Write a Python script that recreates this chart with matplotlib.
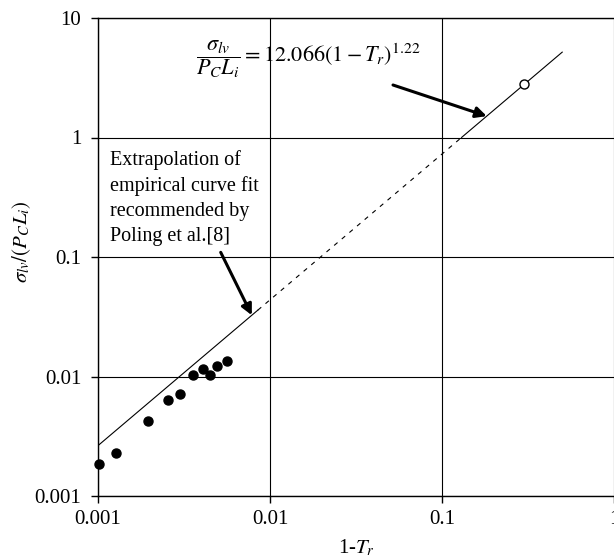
import numpy as np
import matplotlib
matplotlib.use("Agg")
import matplotlib.pyplot as plt
from matplotlib.ticker import FixedLocator, FixedFormatter, NullLocator

plt.rcParams["font.family"] = ["Liberation Serif", "DejaVu Serif"]
plt.rcParams["mathtext.fontset"] = "stix"

# Measured surface tension data (reduced form)
one_minus_tr = [0.00102, 0.00127, 0.00194, 0.00254, 0.00300,
                0.00358, 0.00406, 0.00448, 0.00490, 0.00560]
sigma_reduced = [0.00184, 0.00228, 0.00424, 0.00636, 0.00714,
                 0.01023, 0.01162, 0.01023, 0.01231, 0.01356]

# Reference point on the correlation
ref_x = [0.3]
ref_y = [2.78]

# Empirical correlation: sigma/(Pc Li) = A (1 - Tr)^n
fit_coeff = 12.066
fit_exp = 1.22
fit_solid_low = [0.001, 0.0085]
fit_dashed = [0.0085, 0.13]
fit_solid_high = [0.13, 0.5]

x_ticks = [0.001, 0.01, 0.1, 1]
x_tick_labels = ["0.001", "0.01", "0.1", "1"]
y_ticks = [0.001, 0.01, 0.1, 1, 10]
y_tick_labels = ["0.001", "0.01", "0.1", "1", "10"]


def fit(x):
    return fit_coeff * np.asarray(x) ** fit_exp


W, H = 614, 560
fig = plt.figure(figsize=(W / 100, H / 100), dpi=100)
L, R, B, T = 98, 614, 496, 18
ax = fig.add_axes([L / W, (H - B) / H, (R - L) / W, (B - T) / H])
ax.set_xscale("log")
ax.set_yscale("log")
ax.set_xlim(0.001, 1)
ax.set_ylim(0.001, 10)

ax.xaxis.set_major_locator(FixedLocator(x_ticks))
ax.xaxis.set_major_formatter(FixedFormatter(x_tick_labels))
ax.yaxis.set_major_locator(FixedLocator(y_ticks))
ax.yaxis.set_major_formatter(FixedFormatter(y_tick_labels))
ax.xaxis.set_minor_locator(NullLocator())
ax.yaxis.set_minor_locator(NullLocator())
ax.tick_params(axis="both", which="major", direction="out", length=5,
               width=1.0, labelsize=15, color="black")
ax.tick_params(axis="y", pad=7)
ax.tick_params(axis="x", pad=5)

ax.grid(True, which="major", color="black", linewidth=0.8)
ax.set_axisbelow(True)
for side in ("left", "bottom", "top"):
    ax.spines[side].set_linewidth(1.0)
ax.spines["right"].set_visible(False)

# Correlation line: solid where fitted, dashed where extrapolated
for seg, ls in ((fit_solid_low, "-"), (fit_dashed, (0, (4, 5))), (fit_solid_high, "-")):
    xs = np.logspace(np.log10(seg[0]), np.log10(seg[1]), 50)
    ax.plot(xs, fit(xs), color="black", linewidth=0.8, linestyle=ls)

ax.plot(one_minus_tr, sigma_reduced, "o", color="black", markersize=6.5,
        clip_on=False, zorder=5)
ax.plot(ref_x, ref_y, "o", markerfacecolor="white", markeredgecolor="black",
        markersize=6.5, markeredgewidth=1.0, zorder=5)

# Correlation equation and its arrow
ax.text(0.19, 0.914,
        r"$\dfrac{\sigma_{lv}}{P_C L_i} = 12.066\left(1-T_r\right)^{1.22}$",
        transform=ax.transAxes, ha="left", va="center", fontsize=16)
tip_hi = 0.182
ax.annotate("", xy=(tip_hi, fit(tip_hi)), xytext=(0.0519, 2.75),
            arrowprops=dict(arrowstyle="-|>", color="black", lw=2.2,
                            mutation_scale=16, shrinkA=0, shrinkB=0))

# Extrapolation note and its arrow
ax.text(0.0233, 0.724,
        "Extrapolation of\nempirical curve fit\nrecommended by\nPoling et al.[8]",
        transform=ax.transAxes, ha="left", va="top", fontsize=14.5,
        linespacing=1.42)
tip_lo = 0.00784
ax.annotate("", xy=(tip_lo, fit(tip_lo)), xytext=(0.00517, 0.1094),
            arrowprops=dict(arrowstyle="-|>", color="black", lw=2.2,
                            mutation_scale=16, shrinkA=0, shrinkB=0))

fig.text(357 / W, 1 - 548 / H, r"1-$T_r$", ha="center", va="center", fontsize=15)
fig.text(22 / W, 1 - 242 / H, r"$\sigma_{lv}/(P_C L_i)$", ha="center",
         va="center", rotation=90, fontsize=15)

fig.savefig("out.png", dpi=100)
